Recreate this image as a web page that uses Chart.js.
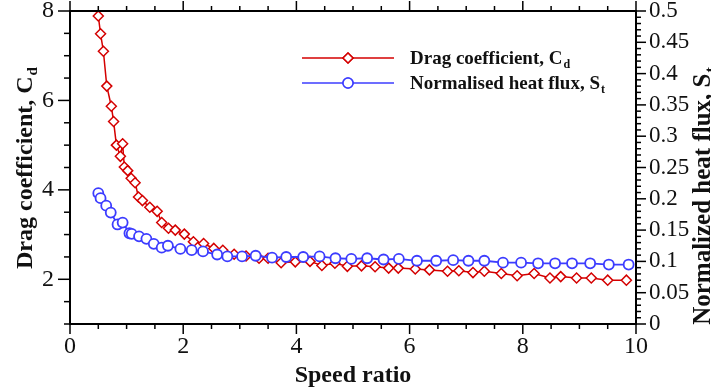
<!DOCTYPE html>
<html>
<head>
<meta charset="utf-8">
<script src="https://cdn.jsdelivr.net/npm/chart.js@4"></script>
<style>
html, body { margin: 0; padding: 0; background: #fff; }
</style>
</head>
<body>
<canvas id="chart" width="711" height="389"></canvas>
<script>
// drag coefficient series (left axis)
const speedRatioCd = [0.50, 0.54, 0.59, 0.65, 0.73, 0.77, 0.82, 0.89, 0.93, 0.96, 1.02, 1.08, 1.15, 1.21, 1.28,
    1.41, 1.54, 1.62, 1.74, 1.86, 2.02, 2.18, 2.36, 2.54, 2.70, 2.90, 3.11, 3.34, 3.50, 3.73, 3.98, 4.24, 4.45,
    4.68, 4.90, 5.15, 5.39, 5.63, 5.80, 6.10, 6.35, 6.67, 6.87, 7.12, 7.32, 7.62, 7.90, 8.20, 8.48, 8.67, 8.95,
    9.21, 9.50, 9.83];
const dragCoeff = [7.89, 7.49, 7.10, 6.32, 5.87, 5.53, 5.00, 4.75, 5.03, 4.51, 4.43, 4.26, 4.16, 3.84, 3.76,
    3.61, 3.52, 3.27, 3.14, 3.10, 3.01, 2.84, 2.80, 2.69, 2.65, 2.56, 2.52, 2.47, 2.47, 2.37, 2.39, 2.40, 2.31,
    2.36, 2.29, 2.30, 2.28, 2.25, 2.25, 2.23, 2.21, 2.18, 2.19, 2.15, 2.18, 2.13, 2.08, 2.13, 2.03, 2.06, 2.03,
    2.03, 1.98, 1.98];

// normalised heat flux series (right axis)
const speedRatioSt = [0.50, 0.54, 0.64, 0.72, 0.84, 0.93, 1.05, 1.09, 1.22, 1.35, 1.48, 1.62, 1.73, 1.95, 2.15,
    2.35, 2.60, 2.78, 3.04, 3.28, 3.57, 3.82, 4.12, 4.41, 4.69, 4.97, 5.25, 5.54, 5.81, 6.13, 6.47, 6.77, 7.04,
    7.32, 7.65, 7.97, 8.27, 8.57, 8.87, 9.19, 9.52, 9.87];
const heatFlux = [0.209, 0.201, 0.189, 0.178, 0.159, 0.162, 0.145, 0.144, 0.140, 0.136, 0.128, 0.122, 0.125,
    0.120, 0.118, 0.116, 0.111, 0.108, 0.108, 0.109, 0.106, 0.107, 0.107, 0.108, 0.105, 0.104, 0.105, 0.103,
    0.104, 0.101, 0.101, 0.102, 0.101, 0.101, 0.098, 0.098, 0.097, 0.097, 0.097, 0.097, 0.095, 0.095];

// axis ticks
const xTicks = [0, 2, 4, 6, 8, 10];
const cdTicks = [2, 4, 6, 8];
const stTicks = [0, 0.05, 0.1, 0.15, 0.2, 0.25, 0.3, 0.35, 0.4, 0.45, 0.5];

const RED = "#d40000";
const BLUE = "#3c3cff";
const SERIF = "'Liberation Serif', 'DejaVu Serif', serif";

function toPoints(xs, ys) {
    const ret = [];
    for (let i = 0; i < xs.length; i++) {
        ret.push({ x: xs[i], y: ys[i] });
    }
    return ret;
}

function fixedTicks(values) {
    return function (scale) {
        scale.ticks = values.map(v => ({ value: v }));
    };
}

function line(ctx, x1, y1, x2, y2) {
    ctx.beginPath();
    ctx.moveTo(x1, y1);
    ctx.lineTo(x2, y2);
    ctx.stroke();
}

// text with a subscript, starting at (x, y) on the baseline
function subText(ctx, main, sub, x, y, size) {
    ctx.font = "bold " + size + "px " + SERIF;
    ctx.fillText(main, x, y);
    const w = ctx.measureText(main).width;
    ctx.font = "bold " + Math.round(size * 0.62) + "px " + SERIF;
    ctx.fillText(sub, x + w + 1, y + size * 0.22);
    return w + ctx.measureText(sub).width + 1;
}

function subWidth(ctx, main, sub, size) {
    ctx.font = "bold " + size + "px " + SERIF;
    const w = ctx.measureText(main).width;
    ctx.font = "bold " + Math.round(size * 0.62) + "px " + SERIF;
    return w + ctx.measureText(sub).width + 1;
}

// frame, major/minor tick marks, axis titles and legend
const decorations = {
    id: "decorations",
    afterDraw(chart) {
        const ctx = chart.ctx;
        const a = chart.chartArea;
        const sx = chart.scales.x, sy = chart.scales.y, sr = chart.scales.y1;
        ctx.save();
        ctx.strokeStyle = "#000";
        ctx.fillStyle = "#000";
        ctx.lineWidth = 2;
        ctx.strokeRect(a.left, a.top, a.right - a.left, a.bottom - a.top);

        ctx.lineWidth = 1.5;
        for (let v = 0; v <= 10.001; v += 0.5) {
            const px = sx.getPixelForValue(v);
            const len = Math.abs(v % 2) < 0.01 ? 10 : 5;
            line(ctx, px, a.bottom, px, a.bottom + len);
            line(ctx, px, a.top, px, a.top - len);
        }
        for (let v = 1; v <= 8.001; v += 0.5) {
            const py = sy.getPixelForValue(v);
            const len = Math.abs(v % 2) < 0.01 ? 12 : 6;
            line(ctx, a.left - len, py, a.left, py);
        }
        for (let i = 0; i <= 50; i++) {
            const py = sr.getPixelForValue(i / 100);
            const len = i % 5 === 0 ? 10 : 5;
            line(ctx, a.right, py, a.right + len, py);
        }

        // axis titles
        ctx.fillStyle = "#111";
        ctx.textBaseline = "alphabetic";
        ctx.font = "bold 24px " + SERIF;
        ctx.textAlign = "center";
        ctx.fillText("Speed ratio", (a.left + a.right) / 2, 382);
        ctx.textAlign = "left";

        let w = subWidth(ctx, "Drag coefficient, C", "d", 24);
        ctx.save();
        ctx.translate(32, 168 + w / 2);
        ctx.rotate(-Math.PI / 2);
        subText(ctx, "Drag coefficient, C", "d", 0, 0, 24);
        ctx.restore();

        w = subWidth(ctx, "Normalized heat flux, S", "t", 25);
        ctx.save();
        ctx.translate(710, 196 + w / 2);
        ctx.rotate(-Math.PI / 2);
        subText(ctx, "Normalized heat flux, S", "t", 0, 0, 25);
        ctx.restore();

        // legend
        const entries = [
            { color: RED, style: "rectRot", y: 58, main: "Drag coefficient, C", sub: "d" },
            { color: BLUE, style: "circle", y: 83, main: "Normalised heat flux, S", sub: "t" }
        ];
        for (const e of entries) {
            ctx.strokeStyle = e.color;
            ctx.lineWidth = 1.5;
            line(ctx, 302, e.y, 394, e.y);
            ctx.fillStyle = "#fff";
            Chart.helpers.drawPoint(ctx, { pointStyle: e.style, radius: 5, borderWidth: 1.5, rotation: 0 }, 348, e.y);
            ctx.fill();
            ctx.stroke();
            ctx.fillStyle = "#111";
            subText(ctx, e.main, e.sub, 410, e.y + 6, 19);
        }
        ctx.restore();
    }
};

const tickFont = { family: SERIF, size: 24 };

new Chart(document.getElementById("chart"), {
    type: "scatter",
    plugins: [decorations],
    data: {
        datasets: [{
            label: "Normalised heat flux, St",
            data: toPoints(speedRatioSt, heatFlux),
            yAxisID: "y1",
            showLine: true,
            order: 0,
            borderColor: BLUE,
            borderWidth: 1.8,
            pointStyle: "circle",
            pointRadius: 5,
            pointBorderWidth: 1.8,
            pointBackgroundColor: "#fff",
            pointBorderColor: BLUE
        }, {
            label: "Drag coefficient, Cd",
            data: toPoints(speedRatioCd, dragCoeff),
            yAxisID: "y",
            showLine: true,
            order: 1,
            borderColor: RED,
            borderWidth: 1.5,
            pointStyle: "rectRot",
            pointRadius: 5,
            pointBorderWidth: 1.5,
            pointBackgroundColor: "#fff",
            pointBorderColor: RED
        }]
    },
    options: {
        responsive: false,
        animation: false,
        layout: { padding: { top: 11, left: 0, right: 0, bottom: 0 } },
        plugins: {
            legend: { display: false },
            tooltip: { enabled: false }
        },
        scales: {
            x: {
                type: "linear",
                position: "bottom",
                min: 0,
                max: 10,
                afterBuildTicks: fixedTicks(xTicks),
                ticks: { font: tickFont, color: "#111", padding: 8, maxRotation: 0, autoSkip: false },
                grid: { display: false, drawTicks: false },
                border: { display: false },
                afterFit(s) { s.height = 65; s.paddingLeft = 0; s.paddingRight = 0; }
            },
            y: {
                type: "linear",
                position: "left",
                min: 1,
                max: 8,
                afterBuildTicks: fixedTicks(cdTicks),
                ticks: { font: tickFont, color: "#111", padding: 16, autoSkip: false },
                grid: { display: false, drawTicks: false },
                border: { display: false },
                afterFit(s) { s.width = 70; s.paddingTop = 0; s.paddingBottom = 0; }
            },
            y1: {
                type: "linear",
                position: "right",
                min: 0,
                max: 0.5,
                afterBuildTicks: fixedTicks(stTicks),
                ticks: { font: { family: SERIF, size: 23 }, color: "#111", padding: 13, autoSkip: false, callback: v => String(v) },
                grid: { display: false, drawTicks: false },
                border: { display: false },
                afterFit(s) { s.width = 75; s.paddingTop = 0; s.paddingBottom = 0; }
            }
        }
    }
});
</script>
</body>
</html>
